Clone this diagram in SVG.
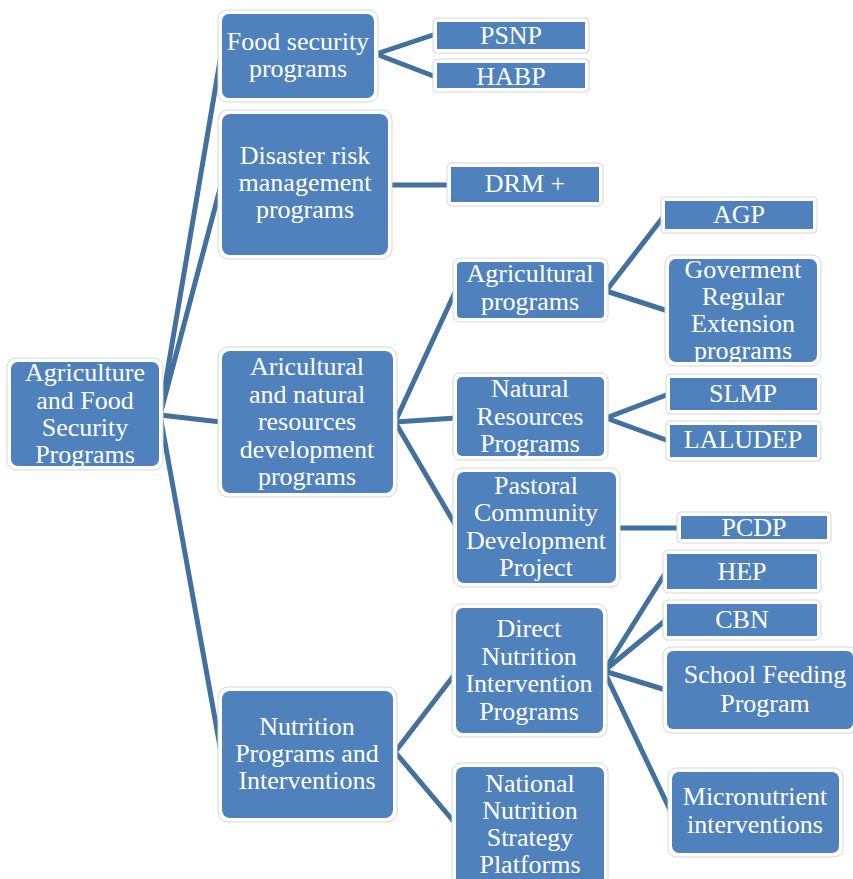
<svg xmlns="http://www.w3.org/2000/svg" width="853" height="879" viewBox="0 0 853 879">
<style>
.nodebox{fill:#fff;stroke:#d6d6d6;stroke-width:1}
.nodefill{fill:#4f81bd}
.nodelabel{font-family:'Liberation Serif';font-size:26px;fill:#fff;text-anchor:middle}
.links line{stroke:#41719c;stroke-width:5;stroke-linecap:round}
</style>
<rect width="853" height="879" fill="#fff"/>
<g id="connectors" class="links">
<line x1="160" y1="415" x2="221" y2="55"/>
<line x1="160" y1="415" x2="221" y2="185"/>
<line x1="160" y1="415" x2="221" y2="422"/>
<line x1="160" y1="415" x2="221" y2="752"/>
<line x1="376" y1="54" x2="436" y2="34"/>
<line x1="376" y1="54" x2="436" y2="77"/>
<line x1="390" y1="185" x2="450" y2="185"/>
<line x1="395" y1="422" x2="456" y2="290"/>
<line x1="395" y1="422" x2="456" y2="418"/>
<line x1="395" y1="422" x2="456" y2="526"/>
<line x1="606" y1="291" x2="664" y2="216"/>
<line x1="606" y1="291" x2="668" y2="311"/>
<line x1="606" y1="418" x2="669" y2="394"/>
<line x1="606" y1="418" x2="669" y2="441"/>
<line x1="618" y1="528" x2="680" y2="528"/>
<line x1="395" y1="752" x2="455" y2="674"/>
<line x1="395" y1="752" x2="455" y2="823"/>
<line x1="604" y1="671" x2="666" y2="572"/>
<line x1="604" y1="671" x2="666" y2="620"/>
<line x1="604" y1="671" x2="666" y2="690"/>
<line x1="604" y1="671" x2="671" y2="812"/>
</g>
<g id="nodes">
<g id="root"><rect class="nodebox" x="7" y="358" width="156" height="112" rx="9"/><rect class="nodefill" x="11" y="362" width="148" height="104" rx="7"/>
<text class="nodelabel" style="font-family:'Liberation Serif'"><tspan x="85" y="381">Agriculture</tspan><tspan x="85" y="409">and Food</tspan><tspan x="85" y="436">Security</tspan><tspan x="85" y="463">Programs</tspan></text></g>
<g id="food"><rect class="nodebox" x="218" y="10" width="160" height="92" rx="9"/><rect class="nodefill" x="222" y="14" width="152" height="84" rx="7"/>
<text class="nodelabel" style="font-family:'Liberation Serif'"><tspan x="298" y="50">Food security</tspan><tspan x="298" y="77">programs</tspan></text></g>
<g id="disaster"><rect class="nodebox" x="218" y="110" width="174" height="149" rx="10"/><rect class="nodefill" x="222" y="114" width="166" height="141" rx="8"/>
<text class="nodelabel" style="font-family:'Liberation Serif'"><tspan x="305" y="164">Disaster  risk</tspan><tspan x="305" y="191">management</tspan><tspan x="305" y="218">programs</tspan></text></g>
<g id="aric"><rect class="nodebox" x="218" y="347" width="179" height="150" rx="10"/><rect class="nodefill" x="222" y="351" width="171" height="142" rx="8"/>
<text class="nodelabel" style="font-family:'Liberation Serif'"><tspan x="307" y="375">Aricultural</tspan><tspan x="307" y="403">and natural</tspan><tspan x="307" y="430">resources</tspan><tspan x="307" y="458">development</tspan><tspan x="307" y="485">programs</tspan></text></g>
<g id="nutrition"><rect class="nodebox" x="218" y="687" width="179" height="135" rx="10"/><rect class="nodefill" x="222" y="691" width="171" height="127" rx="8"/>
<text class="nodelabel" style="font-family:'Liberation Serif'"><tspan x="307" y="735">Nutrition</tspan><tspan x="307" y="762">Programs and</tspan><tspan x="307" y="789">Interventions</tspan></text></g>
<g id="psnp"><rect class="nodebox" x="433" y="18" width="156" height="35" rx="4"/><rect class="nodefill" x="437" y="22" width="148" height="27"/>
<text class="nodelabel" style="font-family:'Liberation Serif'" x="511" y="44">PSNP</text></g>
<g id="habp"><rect class="nodebox" x="433" y="59" width="156" height="33" rx="4"/><rect class="nodefill" x="437" y="63" width="148" height="25"/>
<text class="nodelabel" style="font-family:'Liberation Serif'" x="511" y="85">HABP</text></g>
<g id="drm"><rect class="nodebox" x="447" y="163" width="156" height="43" rx="5"/><rect class="nodefill" x="451" y="167" width="148" height="35"/>
<text class="nodelabel" style="font-family:'Liberation Serif'" x="525" y="192">DRM +</text></g>
<g id="agri"><rect class="nodebox" x="453" y="258" width="155" height="64" rx="7"/><rect class="nodefill" x="457" y="262" width="147" height="56" rx="4"/>
<text class="nodelabel" style="font-family:'Liberation Serif'"><tspan x="530" y="282">Agricultural</tspan><tspan x="530" y="310">programs</tspan></text></g>
<g id="agp"><rect class="nodebox" x="661" y="197" width="156" height="36" rx="4"/><rect class="nodefill" x="665" y="201" width="148" height="28"/>
<text class="nodelabel" style="font-family:'Liberation Serif'" x="739" y="223">AGP</text></g>
<g id="gov"><rect class="nodebox" x="665" y="255" width="156" height="111" rx="9"/><rect class="nodefill" x="669" y="259" width="148" height="103" rx="7"/>
<text class="nodelabel" style="font-family:'Liberation Serif'"><tspan x="743" y="278">Goverment</tspan><tspan x="743" y="305">Regular</tspan><tspan x="743" y="332">Extension</tspan><tspan x="743" y="359">programs</tspan></text></g>
<g id="nr"><rect class="nodebox" x="453" y="373" width="155" height="87" rx="7"/><rect class="nodefill" x="457" y="377" width="147" height="79" rx="5"/>
<text class="nodelabel" style="font-family:'Liberation Serif'"><tspan x="530" y="397">Natural</tspan><tspan x="530" y="425">Resources</tspan><tspan x="530" y="452">Programs</tspan></text></g>
<g id="slmp"><rect class="nodebox" x="666" y="374" width="155" height="40" rx="4"/><rect class="nodefill" x="670" y="378" width="147" height="32"/>
<text class="nodelabel" style="font-family:'Liberation Serif'" x="743" y="402">SLMP</text></g>
<g id="laludep"><rect class="nodebox" x="666" y="421" width="155" height="40" rx="4"/><rect class="nodefill" x="670" y="425" width="147" height="32"/>
<text class="nodelabel" style="font-family:'Liberation Serif'" x="743" y="448">LALUDEP</text></g>
<g id="pastoral"><rect class="nodebox" x="453" y="468" width="167" height="119" rx="9"/><rect class="nodefill" x="457" y="472" width="159" height="111" rx="7"/>
<text class="nodelabel" style="font-family:'Liberation Serif'"><tspan x="536" y="494">Pastoral</tspan><tspan x="536" y="521">Community</tspan><tspan x="536" y="549">Development</tspan><tspan x="536" y="576">Project</tspan></text></g>
<g id="pcdp"><rect class="nodebox" x="677" y="512" width="154" height="31" rx="4"/><rect class="nodefill" x="681" y="516" width="146" height="23"/>
<text class="nodelabel" style="font-family:'Liberation Serif'" x="754" y="536">PCDP</text></g>
<g id="hep"><rect class="nodebox" x="663" y="550" width="158" height="43" rx="5"/><rect class="nodefill" x="667" y="554" width="150" height="35"/>
<text class="nodelabel" style="font-family:'Liberation Serif'" x="742" y="580">HEP</text></g>
<g id="cbn"><rect class="nodebox" x="663" y="600" width="158" height="40" rx="5"/><rect class="nodefill" x="667" y="604" width="150" height="32"/>
<text class="nodelabel" style="font-family:'Liberation Serif'" x="742" y="628">CBN</text></g>
<g id="school"><rect class="nodebox" x="663" y="647" width="194" height="86" rx="8"/><rect class="nodefill" x="667" y="651" width="186" height="78" rx="6"/>
<text class="nodelabel" style="font-family:'Liberation Serif'"><tspan x="765" y="683">School Feeding</tspan><tspan x="765" y="712">Program</tspan></text></g>
<g id="direct"><rect class="nodebox" x="452" y="604" width="155" height="133" rx="9"/><rect class="nodefill" x="456" y="608" width="147" height="125" rx="7"/>
<text class="nodelabel" style="font-family:'Liberation Serif'"><tspan x="529" y="637">Direct</tspan><tspan x="529" y="665">Nutrition</tspan><tspan x="529" y="692">Intervention</tspan><tspan x="529" y="720">Programs</tspan></text></g>
<g id="micro"><rect class="nodebox" x="668" y="768" width="175" height="89" rx="9"/><rect class="nodefill" x="672" y="772" width="167" height="81" rx="7"/>
<text class="nodelabel" style="font-family:'Liberation Serif'"><tspan x="755" y="805">Micronutrient</tspan><tspan x="755" y="833">interventions</tspan></text></g>
<g id="national"><rect class="nodebox" x="452" y="763" width="156" height="130" rx="9"/><rect class="nodefill" x="456" y="767" width="148" height="122" rx="7"/>
<text class="nodelabel" style="font-family:'Liberation Serif'"><tspan x="530" y="792">National</tspan><tspan x="530" y="819">Nutrition</tspan><tspan x="530" y="846">Strategy</tspan><tspan x="530" y="873">Platforms</tspan></text></g>
</g>
</svg>
